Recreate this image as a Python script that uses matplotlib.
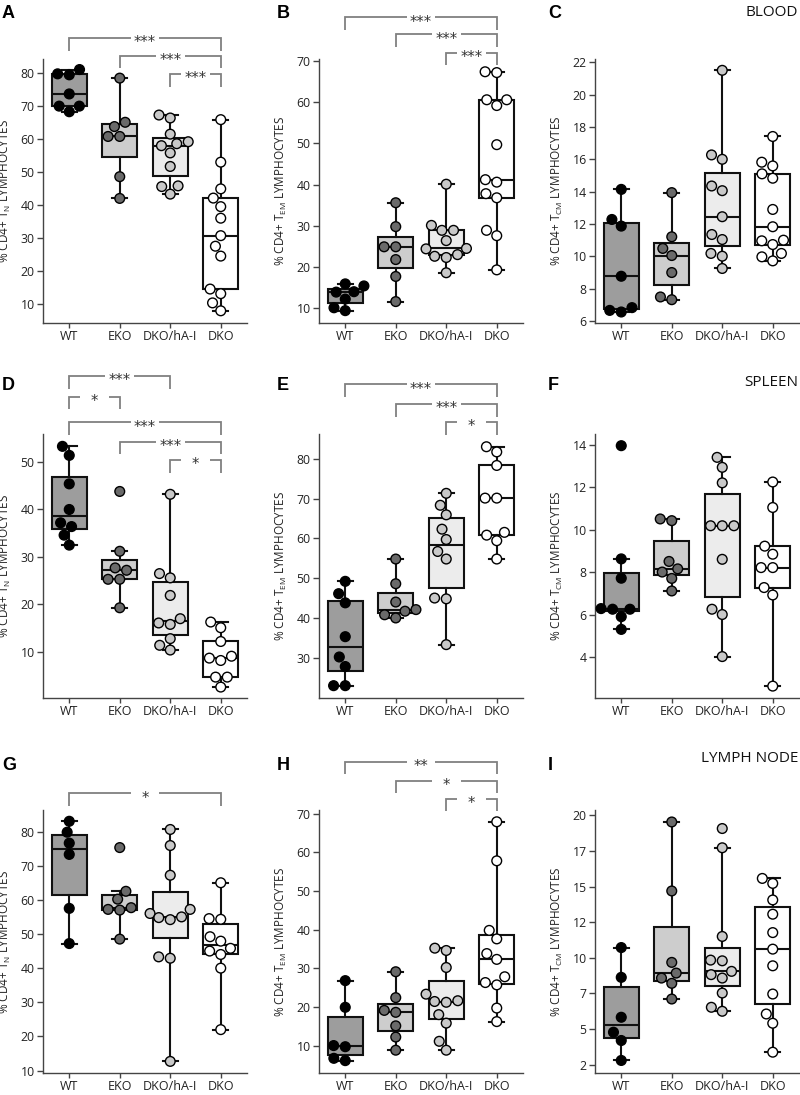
import matplotlib
matplotlib.use("Agg")
import matplotlib.pyplot as plt
import matplotlib.transforms as mtransforms
from matplotlib import cbook
from matplotlib.ticker import FuncFormatter
import pandas as pd
import seaborn as sns

GROUPS = ["WT", "EKO", "DKO/hA-I", "DKO"]
BOX_COLORS = ["#9d9d9d", "#cdcdcd", "#ececec", "#ffffff"]
DOT_COLORS = ["#000000", "#6a6a6a", "#c9c9c9", "#ffffff"]

# % of CD4+ lymphocytes, one list per group (WT, EKO, DKO/hA-I, DKO)
A_VALUES = [
    [81.1, 79.8, 79.5, 73.7, 70.0, 70.0, 68.3],
    [78.5, 65.1, 63.8, 60.8, 60.8, 48.6, 42.0],
    [67.3, 66.4, 61.5, 59.2, 58.6, 58.0, 55.8, 51.7, 45.8, 45.6, 43.3],
    [65.9, 53.0, 44.9, 42.1, 39.5, 36.0, 30.7, 27.5, 24.5, 14.5, 13.1, 10.3, 7.9],
]
B_VALUES = [
    [15.9, 15.4, 14.0, 13.9, 12.2, 10.1, 9.4],
    [35.6, 29.8, 24.9, 24.9, 21.8, 17.7, 11.6],
    [40.1, 30.1, 28.9, 28.9, 26.4, 24.5, 24.4, 23.0, 22.6, 22.3, 18.6],
    [67.4, 67.2, 60.6, 60.6, 59.2, 49.7, 41.2, 40.6, 37.8, 36.8, 28.9, 27.6, 19.3],
]
C_VALUES = [
    [14.14, 12.28, 11.87, 8.77, 6.83, 6.66, 6.56],
    [13.94, 11.21, 10.49, 10.05, 9.0, 7.49, 7.32],
    [21.5, 16.27, 16.0, 14.35, 14.06, 12.45, 11.35, 11.04, 10.18, 10.01, 9.25],
    [17.41, 15.82, 15.59, 15.1, 14.83, 12.9, 11.83, 11.0, 10.96, 10.73, 10.18, 9.97, 9.72],
]
D_VALUES = [
    [53.3, 51.4, 45.4, 40.0, 37.2, 36.4, 34.6, 32.5],
    [43.8, 31.2, 27.7, 27.2, 25.3, 25.3, 19.3],
    [43.2, 26.5, 25.6, 21.9, 17.0, 16.1, 15.8, 12.8, 11.4, 10.4],
    [16.3, 15.1, 12.2, 9.1, 8.7, 8.2, 4.7, 4.7, 2.6],
]
E_VALUES = [
    [49.2, 46.1, 43.8, 35.3, 30.2, 27.8, 23.0, 23.0],
    [54.8, 48.6, 44.0, 42.1, 41.7, 40.8, 40.0],
    [71.3, 68.3, 65.9, 62.3, 59.7, 56.7, 54.8, 45.0, 44.8, 33.3],
    [83.0, 81.7, 78.3, 70.1, 70.1, 61.5, 60.8, 59.4, 54.8],
]
F_VALUES = [
    [13.95, 8.62, 7.71, 6.28, 6.25, 6.25, 5.9, 5.3],
    [10.5, 10.42, 8.5, 8.15, 8.0, 7.7, 7.11],
    [13.4, 12.93, 12.2, 10.18, 10.18, 10.18, 8.6, 6.25, 6.0, 4.02],
    [12.24, 11.04, 9.22, 8.84, 8.21, 8.21, 7.27, 6.92, 2.63],
]
G_VALUES = [
    [83.0, 79.8, 76.6, 73.3, 57.5, 47.2],
    [75.3, 62.5, 60.2, 57.7, 57.2, 57.0, 48.5],
    [80.6, 75.9, 67.2, 57.2, 56.0, 55.0, 54.8, 54.2, 43.3, 42.9, 12.7],
    [65.0, 54.5, 54.3, 49.2, 47.9, 45.8, 45.0, 44.0, 40.0, 22.0],
]
H_VALUES = [
    [26.8, 19.9, 10.0, 9.7, 6.7, 6.1],
    [29.1, 22.4, 19.1, 18.6, 15.1, 12.2, 8.8],
    [35.2, 34.6, 30.2, 23.3, 21.6, 21.4, 21.2, 18.0, 15.8, 11.1, 8.8],
    [67.9, 57.8, 39.8, 37.6, 33.8, 32.3, 27.8, 26.3, 25.7, 19.7, 16.2],
]
I_VALUES = [
    [10.72, 8.63, 5.83, 4.78, 4.2, 2.8],
    [19.53, 14.69, 9.68, 8.93, 8.58, 8.21, 7.11],
    [19.07, 17.72, 11.5, 9.84, 9.79, 9.05, 8.82, 8.58, 7.53, 6.53, 6.25],
    [15.57, 15.22, 14.06, 13.06, 11.77, 10.61, 9.44, 7.46, 6.06, 5.41, 3.38],
]

# points left outside the whiskers
OUTLIERS = {
    "D": {"EKO": [43.8]},
    "F": {"WT": [13.95]},
    "G": {"EKO": [75.3]},
    "I": {"DKO/hA-I": [19.07]},
}

# (group i, group j, stars)
SIGNIF = {
    "A": [(0, 3, "***"), (1, 3, "***"), (2, 3, "***")],
    "B": [(0, 3, "***"), (1, 3, "***"), (2, 3, "***")],
    "D": [(0, 2, "***"), (0, 1, "*"), (0, 3, "***"), (1, 3, "***"), (2, 3, "*")],
    "E": [(0, 3, "***"), (1, 3, "***"), (2, 3, "*")],
    "G": [(0, 3, "*")],
    "H": [(0, 3, "**"), (1, 3, "*"), (2, 3, "*")],
}
SIGNIF_Y = {
    "A": [1.080, 1.013, 0.943],
    "B": [1.158, 1.093, 1.024],
    "D": [1.220, 1.141, 1.044, 0.971, 0.902],
    "E": [1.188, 1.114, 1.045],
    "G": [1.064],
    "H": [1.184, 1.112, 1.043],
}

PANELS = [
    # key, values, subscript, ylim, yticks, row, col
    ("A", A_VALUES, "N", (4.2, 84.3), range(10, 81, 10), 0, 0),
    ("B", B_VALUES, "EM", (6.4, 70.5), range(10, 71, 10), 0, 1),
    ("C", C_VALUES, "CM", (5.88, 22.2), range(6, 23, 2), 0, 2),
    ("D", D_VALUES, "N", (0.3, 55.9), range(10, 51, 10), 1, 0),
    ("E", E_VALUES, "EM", (19.9, 86.2), range(30, 81, 10), 1, 1),
    ("F", F_VALUES, "CM", (2.07, 14.5), range(4, 15, 2), 1, 2),
    ("G", G_VALUES, "N", (9.3, 86.3), range(10, 81, 10), 2, 0),
    ("H", H_VALUES, "EM", (2.9, 70.95), range(10, 71, 10), 2, 1),
    ("I", I_VALUES, "CM", (1.92, 20.37), [2.5 * k for k in range(1, 9)], 2, 2),
]

TISSUES = ["BLOOD", "SPLEEN", "LYMPH NODE"]

W, H = 800, 1095
COL_LEFT = [43, 319, 595]
ROW_TOP = [59, 434, 810]
ROW_BOTTOM = [323, 698, 1073]
AX_W = 204
LETTER_Y = [13, 386, 765]
TISSUE_Y = [13, 382, 758]

plt.rcParams["font.family"] = ["Open Sans", "DejaVu Sans"]
plt.rcParams["axes.unicode_minus"] = False


def bracket(ax, x1, x2, y, text, leg=0.048):
    trans = mtransforms.blended_transform_factory(ax.transData, ax.transAxes)
    mid = (x1 + x2) / 2
    gap = 0.285
    kw = dict(color="#808080", lw=1.3, transform=trans, clip_on=False,
              solid_capstyle="butt", solid_joinstyle="miter")
    ax.plot([x1, x1, mid - gap], [y - leg, y, y], **kw)
    ax.plot([mid + gap, x2, x2], [y, y, y - leg], **kw)
    off = mtransforms.offset_copy(trans, fig=ax.figure, y=-3.5, units="points")
    ax.text(mid, y, text, transform=off, ha="center", va="center",
            fontsize=10.5, color="#333333", family="DejaVu Sans")


fig = plt.figure(figsize=(W / 100, H / 100), dpi=100)

for key, values, sub, ylim, yticks, row, col in PANELS:
    left = COL_LEFT[col] / W
    bottom = 1 - ROW_BOTTOM[row] / H
    height = (ROW_BOTTOM[row] - ROW_TOP[row]) / H
    ax = fig.add_axes([left, bottom, AX_W / W, height])

    # box statistics, whiskers to the extremes apart from flagged outliers
    stats = []
    for g, vals in zip(GROUPS, values):
        s = cbook.boxplot_stats(vals, whis=(0, 100))[0]
        out = OUTLIERS.get(key, {}).get(g, [])
        if out:
            inner = [v for v in vals if v not in out]
            s["whislo"], s["whishi"] = min(inner), max(inner)
        stats.append(s)

    line = dict(color="#111111", lw=1.5)
    bp = ax.bxp(stats, positions=range(4), widths=0.7, capwidths=0.3,
                patch_artist=True, showfliers=False,
                boxprops=dict(edgecolor="#111111", lw=1.5),
                whiskerprops=line, capprops=line, medianprops=line, zorder=2)
    for patch, c in zip(bp["boxes"], BOX_COLORS):
        patch.set_facecolor(c)

    df = pd.DataFrame({
        "group": [g for g, vals in zip(GROUPS, values) for _ in vals],
        "value": [v for vals in values for v in vals],
    })
    sns.swarmplot(data=df, x="group", y="value", hue="group", order=GROUPS,
                  hue_order=GROUPS, palette=dict(zip(GROUPS, DOT_COLORS)),
                  size=7, edgecolor="black", linewidth=1, legend=False,
                  ax=ax, zorder=3)

    ax.set_xlim(-0.52, 3.52)
    ax.set_ylim(*ylim)
    ax.set_xticks(range(4))
    ax.set_xticklabels(GROUPS, fontsize=9, color="#222222")
    ax.set_yticks(list(yticks))
    if key == "I":
        ax.yaxis.set_major_formatter(FuncFormatter(lambda v, p: str(int(v))))
    ax.tick_params(axis="y", labelsize=8.8, length=4, width=1,
                   colors="#444444", labelcolor="#222222", pad=2)
    ax.tick_params(axis="x", length=3.5, width=1, colors="#444444",
                   labelcolor="#222222", pad=1.5)
    ax.set_xlabel("")
    ax.set_ylabel("% CD4+ T$\\mathregular{_{" + sub + "}}$ LYMPHOCYTES",
                  fontsize=8.5, color="#222222")
    ax.yaxis.set_label_coords(-0.146, 0.5)
    for side in ("top", "right"):
        ax.spines[side].set_visible(False)
    for side in ("left", "bottom"):
        ax.spines[side].set_color("#444444")
        ax.spines[side].set_linewidth(1)
    ax.grid(False)

    for (i, j, stars), y in zip(SIGNIF.get(key, []), SIGNIF_Y.get(key, [])):
        bracket(ax, i, j, y, stars)

    lx = [2, 277, 548][col]
    fig.text(lx / W, 1 - LETTER_Y[row] / H, key, fontsize=13, fontweight="bold",
             family="Liberation Sans", ha="left", va="center")

for row, name in enumerate(TISSUES):
    fig.text(798 / W, 1 - TISSUE_Y[row] / H, name, fontsize=11, ha="right",
             va="center", color="#111111")

fig.savefig("out.png", dpi=100, facecolor="white")
